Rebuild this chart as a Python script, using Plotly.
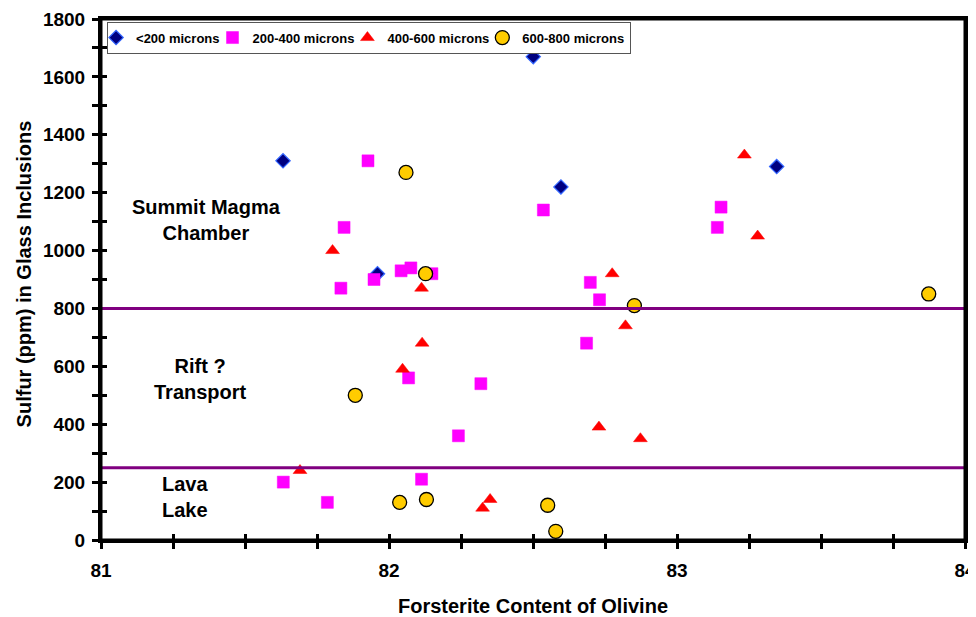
import plotly.graph_objects as go

# ---- data ----
x_lt200 = [81.632, 81.960, 82.501, 82.597, 83.346]
y_lt200 = [1310, 920, 1670, 1220, 1290]

x_200_400 = [81.633, 81.786, 81.833, 81.844, 81.927, 81.948, 82.042, 82.068, 82.076,
             82.113, 82.149, 82.241, 82.319, 82.536, 82.686, 82.699, 82.731, 83.140, 83.153]
y_200_400 = [200, 130, 870, 1080, 1310, 900, 930, 560, 940,
             210, 920, 360, 540, 1140, 680, 890, 830, 1080, 1150]

x_400_600 = [81.691, 81.804, 82.047, 82.113, 82.115, 82.325, 82.351, 82.729, 82.775,
             82.821, 82.873, 83.234, 83.280]
y_400_600 = [240, 1000, 590, 870, 680, 110, 140, 390, 920,
             740, 350, 1330, 1050]

x_600_800 = [81.883, 82.037, 82.059, 82.127, 82.130, 82.551, 82.579, 82.852, 83.874]
y_600_800 = [500, 130, 1270, 920, 140, 120, 30, 810, 850]

series_names = ["<200 microns", "200-400 microns", "400-600 microns", "600-800 microns"]

boundaries = [800, 250]
region_labels = ["Summit Magma<br>Chamber", "Rift ?<br>Transport", "Lava<br>Lake"]
region_label_x = [81.365, 81.347, 81.29]
region_label_y = [1106, 556, 149]

x_title = "Forsterite Content of Olivine"
y_title = "Sulfur (ppm) in Glass Inclusions"

FONT = "Liberation Sans, Arial, sans-serif"

fig = go.Figure()

fig.add_trace(go.Scatter(
    x=x_lt200, y=y_lt200, mode="markers", name=series_names[0],
    marker=dict(symbol="diamond", size=11, color="#000080",
                line=dict(color="#3366FF", width=1.2))))
fig.add_trace(go.Scatter(
    x=x_200_400, y=y_200_400, mode="markers", name=series_names[1],
    marker=dict(symbol="square", size=12, color="#FF00FF",
                line=dict(color="#FF00FF", width=0.5))))
fig.add_trace(go.Scatter(
    x=x_400_600, y=y_400_600, mode="markers", name=series_names[2],
    marker=dict(symbol="triangle-up", size=12, color="#FF0000",
                line=dict(color="#FF0000", width=0.5))))
fig.add_trace(go.Scatter(
    x=x_600_800, y=y_600_800, mode="markers", name=series_names[3],
    marker=dict(symbol="circle", size=14, color="#FFCC00",
                line=dict(color="#000000", width=1.3))))

# helper axes for ticks crossing the axis lines (inside part)
fig.add_trace(go.Scatter(x=[81, 84], y=[0, 1800], xaxis="x2", yaxis="y2",
                         mode="markers", marker=dict(opacity=0), showlegend=False,
                         hoverinfo="skip"))

for b in boundaries:
    fig.add_shape(type="line", xref="paper", x0=0, x1=1, yref="y", y0=b, y1=b,
                  line=dict(color="#800080", width=3), layer="above")

# plot frame
fig.add_shape(type="rect", xref="paper", yref="paper", x0=0, x1=1, y0=0, y1=1,
              line=dict(color="black", width=3), fillcolor="rgba(0,0,0,0)", layer="above")

for txt, ax_, ay_ in zip(region_labels, region_label_x, region_label_y):
    fig.add_annotation(x=ax_, y=ay_, xref="x", yref="y", text=txt, showarrow=False,
                       font=dict(family=FONT, size=20, color="black", weight="bold"),
                       align="center")

# y-axis title as rotated text
fig.add_annotation(x=-0.089, y=0.51, xref="paper", yref="paper", text=y_title,
                   showarrow=False, textangle=-90, xanchor="center", yanchor="middle",
                   font=dict(family=FONT, size=20, color="black", weight="bold"))

tickfont = dict(family=FONT, size=19, color="black", weight="bold")

# the page body has an 8px margin, so the figure is sized to fit the remaining window
fig.update_layout(
    template="none",
    width=968, height=609,
    margin=dict(l=93, r=11, t=11, b=77, autoexpand=False),
    paper_bgcolor="white", plot_bgcolor="white",
    showlegend=True,
    legend=dict(orientation="h", x=0.007, y=0.995, xanchor="left", yanchor="top",
                bgcolor="white", bordercolor="#555555", borderwidth=1,
                font=dict(family=FONT, size=13, color="black", weight="bold"),
                itemwidth=30, tracegroupgap=0, indentation=-12),
    xaxis=dict(range=[81, 84], dtick=1, tick0=81, showgrid=False, zeroline=False,
               automargin=False,
               showline=True, linecolor="black", linewidth=3, mirror=True,
               ticks="outside", ticklen=6, tickwidth=2.5, tickcolor="black",
               minor=dict(dtick=0.25, ticks="outside", ticklen=6, tickwidth=2.5,
                          tickcolor="black", showgrid=False),
               tickfont=tickfont, ticklabelstandoff=5,
               title=dict(text=x_title, standoff=24,
                          font=dict(family=FONT, size=20, color="black", weight="bold"))),
    yaxis=dict(range=[0, 1800], dtick=200, tick0=0, showgrid=False, zeroline=False,
               automargin=False,
               showline=True, linecolor="black", linewidth=3, mirror=True,
               ticks="outside", ticklen=6, tickwidth=2.5, tickcolor="black",
               minor=dict(dtick=100, ticks="outside", ticklen=6, tickwidth=2.5,
                          tickcolor="black", showgrid=False),
               tickfont=tickfont, ticklabelstandoff=3),
    xaxis2=dict(overlaying="x", matches="x", range=[81, 84], dtick=0.25, tick0=81,
                automargin=False,
                showgrid=False, zeroline=False, showline=False, ticks="inside",
                ticklen=6, tickwidth=2.5, tickcolor="black", showticklabels=False),
    yaxis2=dict(overlaying="y", matches="y", range=[0, 1800], dtick=100, tick0=0,
                automargin=False,
                showgrid=False, zeroline=False, showline=False, ticks="inside",
                ticklen=6, tickwidth=2.5, tickcolor="black", showticklabels=False),
)

fig.write_html("out.html")
